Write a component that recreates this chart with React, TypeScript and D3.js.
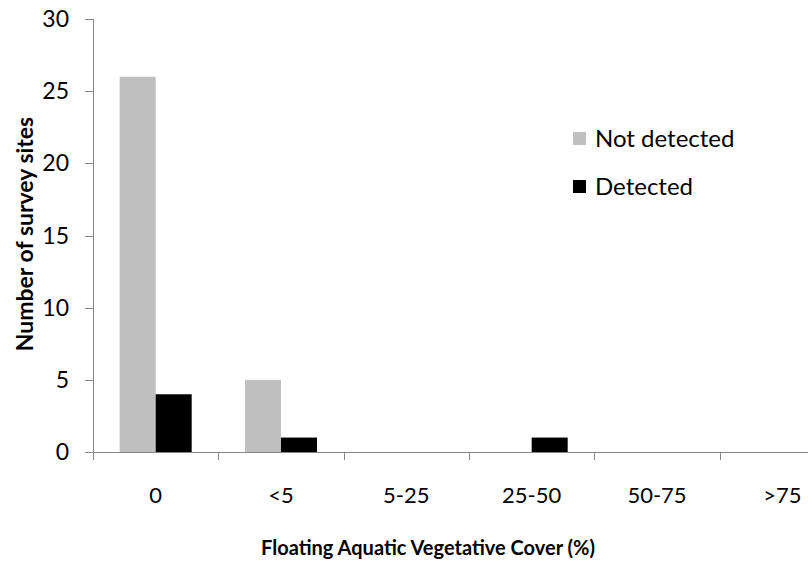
import React, { useEffect, useRef } from 'react';
import * as d3 from 'd3';

const categories = ['0', '<5', '5-25', '25-50', '50-75', '>75'];
const seriesNames = ['Not detected', 'Detected'];
const notDetected = [26, 5, 0, 0, 0, 0];
const detected = [4, 1, 0, 1, 0, 0];
const yTicks = [0, 5, 10, 15, 20, 25, 30];

const colors = ['#c0c0c0', '#000000'];
const font = 'Lato, "Open Sans", sans-serif';

const App: React.FC = () => {
  const svgRef = useRef<SVGSVGElement>(null);

  useEffect(() => {
    if (!svgRef.current) return;
    const svg = d3.select(svgRef.current);
    svg.selectAll('*').remove();

    const x0 = 93;
    const x1 = 845;
    const yTop = 19;
    const yBottom = 452;
    const axisColor = '#868686';

    const x = d3.scaleBand<string>().domain(categories).range([x0, x1]).padding(0);
    const sub = d3.scaleBand<string>()
      .domain(seriesNames)
      .range([0, x.bandwidth()])
      .paddingInner(0)
      .paddingOuter(0.74);
    const y = d3.scaleLinear().domain([0, 30]).range([yBottom, yTop]);

    const values = [notDetected, detected];

    // Bars
    seriesNames.forEach((name, si) => {
      svg.append('g')
        .selectAll('rect')
        .data(categories)
        .enter()
        .filter((_, i) => values[si][i] > 0)
        .append('rect')
        .attr('x', d => x(d)! + sub(name)!)
        .attr('width', sub.bandwidth())
        .attr('y', d => y(values[si][categories.indexOf(d)]))
        .attr('height', d => yBottom - y(values[si][categories.indexOf(d)]))
        .attr('fill', colors[si]);
    });

    // Y axis
    svg.append('line')
      .attr('x1', x0 + 0.5).attr('x2', x0 + 0.5)
      .attr('y1', yTop).attr('y2', yBottom)
      .attr('stroke', axisColor);
    yTicks.forEach(t => {
      svg.append('line')
        .attr('x1', x0 - 8).attr('x2', x0)
        .attr('y1', Math.round(y(t)) + 0.5).attr('y2', Math.round(y(t)) + 0.5)
        .attr('stroke', axisColor);
      svg.append('text')
        .attr('x', 69)
        .attr('y', y(t) + 8)
        .attr('text-anchor', 'end')
        .style('font-family', font)
        .style('font-size', '23px')
        .style('fill', '#000')
        .text(t);
    });

    // X axis
    svg.append('line')
      .attr('x1', x0).attr('x2', 808)
      .attr('y1', yBottom + 0.5).attr('y2', yBottom + 0.5)
      .attr('stroke', axisColor);
    const bounds = categories.map(c => x(c)!).concat([x1]);
    bounds.forEach(b => {
      svg.append('line')
        .attr('x1', Math.round(b) + 0.5).attr('x2', Math.round(b) + 0.5)
        .attr('y1', yBottom).attr('y2', yBottom + 8)
        .attr('stroke', axisColor);
    });
    categories.forEach(c => {
      svg.append('text')
        .attr('x', x(c)! + x.bandwidth() / 2)
        .attr('y', 503)
        .attr('text-anchor', 'middle')
        .style('font-family', font)
        .style('font-size', '22px')
        .style('fill', '#000')
        .text(c);
    });

    // Axis titles
    svg.append('text')
      .attr('x', 428)
      .attr('y', 555)
      .attr('text-anchor', 'middle')
      .style('font-family', font)
      .style('font-size', '20px')
      .style('font-weight', 'bold')
      .text('Floating Aquatic Vegetative Cover (%)');

    svg.append('text')
      .attr('transform', 'translate(33,234) rotate(-90)')
      .attr('text-anchor', 'middle')
      .style('font-family', font)
      .style('font-size', '23px')
      .style('font-weight', 'bold')
      .text('Number of survey sites');

    // Legend
    seriesNames.forEach((name, i) => {
      const ly = 132 + i * 48;
      svg.append('rect')
        .attr('x', 573).attr('y', ly)
        .attr('width', 13).attr('height', 13)
        .attr('fill', colors[i]);
      svg.append('text')
        .attr('x', 595)
        .attr('y', ly + 15)
        .style('font-family', font)
        .style('font-size', '24px')
        .style('fill', '#000')
        .text(name);
    });
  }, []);

  return (
    <svg
      ref={svgRef}
      width={808}
      height={562}
      style={{ position: 'absolute', left: 0, top: 0, background: '#fff' }}
    />
  );
};

export default App;
